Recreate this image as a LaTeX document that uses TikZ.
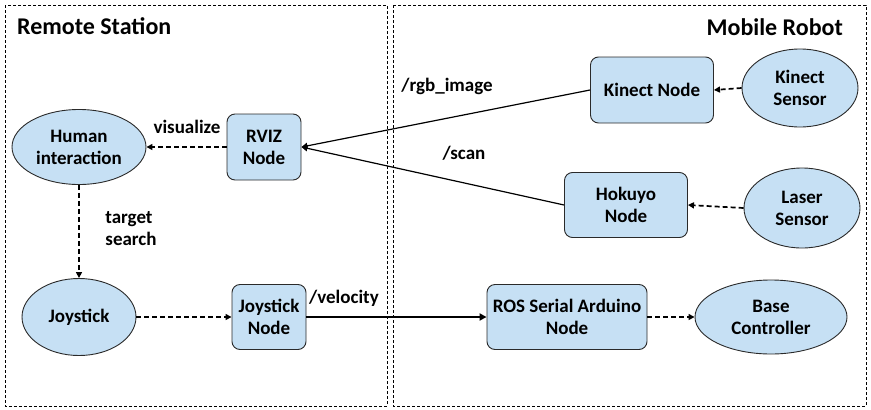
\documentclass[tikz,border=0pt]{standalone}
\usepackage{fontspec}
\setmainfont{Carlito}
\usetikzlibrary{shapes.geometric,arrows.meta}
\definecolor{nodeblue}{HTML}{C6E0F4}
\definecolor{edgegray}{HTML}{2A2A2A}
\begin{document}
\begin{tikzpicture}[x=1pt,y=-1pt,
  stepbox/.style={rectangle,rounded corners=8pt,draw=edgegray,fill=nodeblue,line width=0.9pt,align=center,inner sep=0pt,font=\fontsize{19}{22}\selectfont\bfseries},
  ellbox/.style={ellipse,draw=edgegray,fill=nodeblue,line width=0.9pt,align=center,inner sep=0pt,font=\fontsize{19}{22}\selectfont\bfseries},
  frame/.style={draw=black,line width=0.8pt,dash pattern=on 3pt off 2pt},
  lbl/.style={font=\fontsize{19}{22}\selectfont\bfseries,align=center,inner sep=0pt},
  title/.style={font=\fontsize{24}{28}\selectfont\bfseries,inner sep=0pt},
  dasharrow/.style={line width=1.7pt,dash pattern=on 5pt off 3pt,-{Triangle[length=6pt,width=6pt]}},
  solidarrow/.style={line width=1.2pt,-{Triangle[length=6pt,width=6pt]}}
]
\useasboundingbox (0,0) rectangle (871,410);
\draw[frame] (5,5) rectangle (387,406);
\draw[frame] (393,5) rectangle (866,406);
\node[title,anchor=west] (rs) at (17,26) {Remote Station};
\node[title,anchor=east] (mr) at (843,27) {Mobile Robot};

\node[ellbox,minimum width=134pt,minimum height=75pt] (human) at (79,147) {Human\\interaction};
\node[stepbox,minimum width=74pt,minimum height=66pt] (rviz) at (264,147) {RVIZ\\Node};
\node[stepbox,minimum width=123pt,minimum height=66pt] (kinect) at (652,90) {Kinect Node};
\node[ellbox,minimum width=116pt,minimum height=78pt] (ksensor) at (800,88) {Kinect\\Sensor};
\node[stepbox,minimum width=123pt,minimum height=65pt] (hokuyo) at (626,205) {Hokuyo\\Node};
\node[ellbox,minimum width=116pt,minimum height=80pt] (laser) at (802,208) {Laser\\Sensor};
\node[ellbox,minimum width=114pt,minimum height=77pt] (joy) at (79,317) {Joystick};
\node[stepbox,minimum width=74pt,minimum height=65pt] (joynode) at (269,317) {Joystick\\Node};
\node[stepbox,minimum width=160pt,minimum height=65pt] (ros) at (567,317) {ROS Serial Arduino\\Node};
\node[ellbox,minimum width=152pt,minimum height=74pt] (base) at (771,317) {Base\\Controller};

\draw[solidarrow] (kinect.west) -- (rviz.east);
\draw[solidarrow] (hokuyo.west) -- (rviz.east);
\draw[dasharrow] (ksensor.west) -- (kinect.east);
\draw[dasharrow] (laser.west) -- (hokuyo.east);
\draw[dasharrow] (rviz.west) -- (human.east);
\draw[dasharrow] (human.south) -- (joy.north);
\draw[dasharrow] (joy.east) -- (joynode.west);
\draw[line width=2pt,-{Triangle[length=7pt,width=7pt]}] (joynode.east) -- (ros.west);
\draw[dasharrow] (ros.east) -- (base.west);

\node[lbl] (lvis) at (187,127) {visualize};
\node[lbl] (lrgb) at (447,86) {/rgb\_image};
\node[lbl] (lscan) at (464,153) {/scan};
\node[lbl,align=left] (ltarget) at (131,229) {target\\search};
\node[lbl] (lvel) at (344,298) {/velocity};
\end{tikzpicture}
\end{document}
